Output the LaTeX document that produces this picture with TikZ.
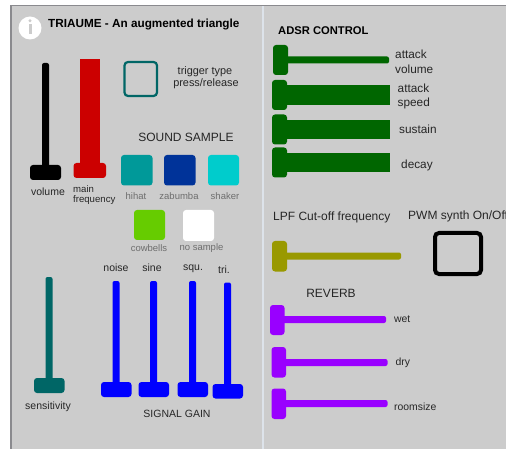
\documentclass[tikz,border=0pt]{standalone}
\usepackage{fontspec}
\setmainfont{Liberation Sans}
\definecolor{panel}{HTML}{CCCCCC}
\definecolor{edge}{HTML}{8A8A8E}
\definecolor{gapc}{HTML}{DDE3EA}
\definecolor{tealc}{HTML}{006666}
\definecolor{hihatc}{HTML}{009999}
\definecolor{zabc}{HTML}{003399}
\definecolor{shakerc}{HTML}{00CCCC}
\definecolor{cowc}{HTML}{66CC00}
\definecolor{redc}{HTML}{CC0000}
\definecolor{bluec}{HTML}{0000FF}
\definecolor{dgreen}{HTML}{006600}
\definecolor{olivec}{HTML}{999900}
\definecolor{purp}{HTML}{9900FF}
\definecolor{txt}{HTML}{262626}
\definecolor{subt}{HTML}{6E6E6E}
\tikzset{
  lbl/.style={inner sep=0pt,yshift=-1pt,text=txt,font=\fontsize{10.5}{12}\selectfont},
  lblsm/.style={lbl,font=\fontsize{10}{12}\selectfont},
  lbltrig/.style={lbl,font=\fontsize{10.9}{12}\selectfont},
  lblrev/.style={lbl,font=\fontsize{10.4}{12}\selectfont},
  lblfreq/.style={lbl,font=\fontsize{9.6}{12}\selectfont},
  lbladsr/.style={lbl,anchor=west,font=\fontsize{11.8}{14}\selectfont},
  head/.style={lbl,font=\fontsize{12}{14}\selectfont},
  boldtitle/.style={lbl,text=black,font=\fontsize{11.75}{14}\selectfont\bfseries},
  boldhead/.style={lbl,text=black,font=\fontsize{11.2}{14}\selectfont\bfseries},
  sample/.style={lbl,text=subt,font=\fontsize{9.5}{12}\selectfont},
  knob/.style={rounded corners=3pt},
  track/.style={rounded corners=2pt}
}
\begin{document}
\begin{tikzpicture}[x=1pt,y=-1pt]
\useasboundingbox (0,0) rectangle (506,449);
\clip (0,0) rectangle (506,449);
\fill[white] (0,0) rectangle (506,449);
% panels
\fill[panel] (10,6) rectangle (261.5,449);
\fill[panel] (263.5,6) rectangle (506,449);
\fill[gapc] (261.5,6) rectangle (263.5,449);
\fill[edge] (9.5,5) rectangle (11.5,449);
\fill[edge] (9.5,5) rectangle (506,6);
% info
\fill[white] (30,28) circle (11.5);
\fill[panel] (28.5,24) rectangle (31.5,34.5);
\fill[panel] (30,20.8) circle (1.6);
\node[boldtitle,anchor=west] (title) at (48,23) {TRIAUME - An augmented triangle};
% volume
\fill[black,track] (42,63) rectangle (49,170);
\fill[black,knob] (30,165) rectangle (61,180);
\node[lbl] (volume) at (48,191) {volume};
% main frequency
\fill[redc] (80,59.5) rectangle (100,165);
\fill[redc,knob] (73.5,163) rectangle (106,178);
\node[lblfreq,anchor=west] (mfa) at (73,188.5) {main};
\node[lblfreq,anchor=west] (mfb) at (73,199.5) {frequency};
% trigger
\draw[tealc,line width=2.2pt,rounded corners=3.5pt] (124.5,62) rectangle (157,96);
\node[lbltrig] (tta) at (205,71) {trigger type};
\node[lbltrig] (ttb) at (206,83) {press/release};
% samples
\node[head] (ss) at (186,136.5) {SOUND SAMPLE};
\fill[hihatc,knob] (121,155) rectangle (152.5,185.5);
\fill[zabc,knob] (164,155) rectangle (195.5,185.5);
\fill[shakerc,knob] (208,155) rectangle (239,185.5);
\fill[cowc,knob] (134,210) rectangle (165,240);
\fill[white,knob] (183,210) rectangle (214,241);
\node[sample] (hihat) at (136,195) {hihat};
\node[sample] (zabumba) at (179,195) {zabumba};
\node[sample] (shaker) at (225,195) {shaker};
\node[sample] (cowbells) at (149,247.5) {cowbells};
\node[sample] (nosample) at (201.5,247.5) {no sample};
% sensitivity
\fill[tealc,track] (45.5,277) rectangle (52.5,380);
\fill[tealc,knob] (34,378) rectangle (64.5,393);
\node[lbl] (sens) at (48,406) {sensitivity};
% signal gain
\fill[bluec,track] (112.5,281) rectangle (119.5,385);
\fill[bluec,knob] (101,382) rectangle (131.5,397);
\fill[bluec,track] (150,281) rectangle (157,385);
\fill[bluec,knob] (138.5,382) rectangle (169,397);
\fill[bluec,track] (189,281) rectangle (196,385);
\fill[bluec,knob] (177.5,382) rectangle (208,397);
\fill[bluec,track] (224,282.5) rectangle (231,387);
\fill[bluec,knob] (212.5,384) rectangle (243,398.5);
\node[lbl] (noise) at (116,267) {noise};
\node[lbl] (sine) at (152,267) {sine};
\node[lbl] (squ) at (193,268) {squ.};
\node[lbl] (tri) at (224,269) {tri.};
\node[lbl] (sg) at (177,412.5) {SIGNAL GAIN};
% ADSR
\node[boldhead,anchor=west] (adsr) at (278,29.5) {ADSR CONTROL};
\fill[dgreen,track] (285,56.5) rectangle (389,63.5);
\fill[dgreen,knob] (273,45) rectangle (288,75);
\fill[dgreen] (285,85) rectangle (390,105);
\fill[dgreen,knob] (272,80) rectangle (287,110);
\fill[dgreen] (285,120) rectangle (390,139.5);
\fill[dgreen,knob] (272,114.5) rectangle (287,144.5);
\fill[dgreen] (285,153) rectangle (390,172);
\fill[dgreen,knob] (272,147.5) rectangle (287,177.5);
\node[lbladsr] (ava) at (395,53.5) {attack};
\node[lbladsr] (avb) at (395,68.5) {volume};
\node[lbladsr] (asa) at (397.5,87.5) {attack};
\node[lbladsr] (asb) at (397.5,102.5) {speed};
\node[lbladsr] (sustain) at (399,128.5) {sustain};
\node[lbladsr] (decay) at (401,164.5) {decay};
% LPF / PWM
\node[head,anchor=west] (lpf) at (273,216) {LPF Cut-off frequency};
\node[head,anchor=west] (pwm) at (408,215.5) {PWM synth On/Off};
\fill[olivec,track] (285,252.5) rectangle (401,259.5);
\fill[olivec,knob] (272,241) rectangle (287,271.5);
\draw[black,line width=4pt,rounded corners=4pt] (435,233) rectangle (481,274);
% reverb
\node[head] (reverb) at (331,292.5) {REVERB};
\fill[purp,track] (282,316) rectangle (386,323);
\fill[purp,knob] (270,305) rectangle (284.5,335);
\fill[purp,track] (283,359) rectangle (387.5,366);
\fill[purp,knob] (271.5,347) rectangle (286,377.5);
\fill[purp,track] (283,400) rectangle (387.5,407);
\fill[purp,knob] (271.5,388.5) rectangle (286,419);
\node[lblrev,anchor=west] (wet) at (394,318.5) {wet};
\node[lblrev,anchor=west] (dry) at (395.5,361.5) {dry};
\node[lblrev,anchor=west] (roomsize) at (394,405.5) {roomsize};
\end{tikzpicture}
\end{document}
